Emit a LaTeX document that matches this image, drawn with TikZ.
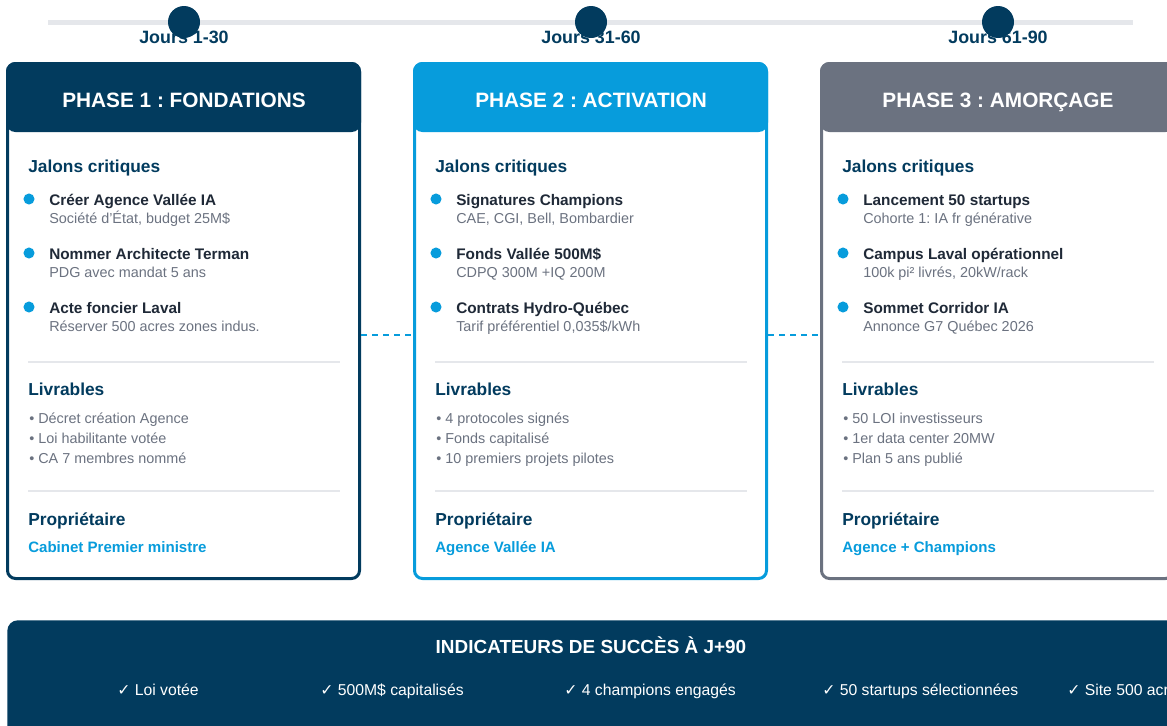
\documentclass[tikz,border=0pt]{standalone}
\usepackage{fontspec}
\setmainfont{Liberation Sans}
\newfontfamily\symfont{DejaVu Sans}
\usetikzlibrary{positioning}
\frenchspacing

\definecolor{navy}{HTML}{023B5E}
\definecolor{sky}{HTML}{079CDC}
\definecolor{slate}{HTML}{6B7280}
\definecolor{ink}{HTML}{1F2937}
\definecolor{track}{HTML}{E5E7EB}

\newcommand{\checkmk}{{\symfont ✓}}

\begin{document}
\begin{tikzpicture}[x=0.75pt, y=-0.75pt,  % 1 unite = 1 pixel de la reference
    card/.style={draw=#1, fill=white, line width=2.25pt, rounded corners=6pt,
      minimum width=264pt, minimum height=386.25pt, anchor=north west, inner sep=0pt},
    phasehead/.style={draw=#1, fill=#1, line width=2.25pt, rounded corners=6pt,
      minimum width=264pt, minimum height=50.25pt, anchor=north west, inner sep=0pt},
    phasetitle/.style={anchor=base, text=white, inner sep=0pt,
      font=\bfseries\fontsize{15.6}{18}\selectfont},
    daylabel/.style={anchor=base, text=navy, inner sep=0pt,
      font=\bfseries\fontsize{13.4}{15}\selectfont},
    daydot/.style={circle, fill=navy, minimum size=24pt, inner sep=0pt},
    sechead/.style={anchor=base west, text=navy, inner sep=0pt,
      font=\bfseries\fontsize{13}{15}\selectfont},
    bullet/.style={circle, fill=sky, minimum size=8.3pt, inner sep=0pt},
    itemtitle/.style={anchor=base west, text=ink, inner sep=0pt,
      font=\bfseries\fontsize{11.5}{14}\selectfont},
    itemnote/.style={anchor=base west, text=slate, inner sep=0pt,
      font=\fontsize{10.8}{13}\selectfont},
    owner/.style={anchor=base west, text=sky, inner sep=0pt,
      font=\bfseries\fontsize{11.3}{14}\selectfont},
    seprule/.style={draw=track, line width=1.5pt},
    link/.style={draw=sky, line width=1.5pt, dash pattern=on 4.5pt off 3.75pt},
    bar/.style={fill=navy, rounded corners=8pt, minimum width=900pt,
      minimum height=90pt, anchor=north west, inner sep=0pt},
    bartitle/.style={anchor=base, text=white, inner sep=0pt,
      font=\bfseries\fontsize{14.2}{17}\selectfont},
    baritem/.style={anchor=base west, text=white, inner sep=0pt,
      font=\fontsize{11.8}{14}\selectfont}]

    % cadre de la page, le reste est coupe
    \useasboundingbox (0,0) rectangle (1167,725);
    \clip (0,0) rectangle (1167,725);

    % ligne du temps
    \draw[track, line width=3.75pt] (48,22) -- (1133,22);
    \node[daylabel] (day1) at (184,43.5) {Jours 1-30};
    \node[daylabel] (day2) at (591,43.5) {Jours 31-60};
    \node[daylabel] (day3) at (998,43.5) {Jours 61-90};
    \node[daydot] (dot1) at (184,22) {};
    \node[daydot] (dot2) at (591,22) {};
    \node[daydot] (dot3) at (998,22) {};

    % les trois cartes
    \node[card=navy] (card1) at (6,62) {};
    \node[card=sky] (card2) at (413,62) {};
    \node[card=slate] (card3) at (820,62) {};

    % liens pointilles entre les cartes
    \draw[link] ([yshift=-10.5pt]card1.east) -- ([yshift=-10.5pt]card2.west);
    \draw[link] ([yshift=-10.5pt]card2.east) -- ([yshift=-10.5pt]card3.west);

    % en-tetes des phases
    \node[phasehead=navy] (head1) at (6,62) {};
    \node[phasehead=sky] (head2) at (413,62) {};
    \node[phasehead=slate] (head3) at (820,62) {};
    \node[phasetitle] (title1) at (184,107) {PHASE 1 : FONDATIONS};
    \node[phasetitle] (title2) at (591,107) {PHASE 2 : ACTIVATION};
    \node[phasetitle] (title3) at (998,107) {PHASE 3 : AMORÇAGE};

    % carte 1
    \node[sechead] (jal1) at (28,172) {Jalons critiques};
    \node[bullet] (b11) at (29,199) {};
    \node[itemtitle] (t11) at (49,205) {Créer Agence Vallée IA};
    \node[itemnote] (n11) at (49,223) {Société d’État, budget 25M\$};
    \node[bullet] (b12) at (29,253) {};
    \node[itemtitle] (t12) at (49,259) {Nommer Architecte Terman};
    \node[itemnote] (n12) at (49,277) {PDG avec mandat 5 ans};
    \node[bullet] (b13) at (29,307) {};
    \node[itemtitle] (t13) at (49,313) {Acte foncier Laval};
    \node[itemnote] (n13) at (49,331) {Réserver 500 acres zones indus.};
    \draw[seprule] (28,362) -- (340,362);
    \node[sechead] (liv1) at (28,395) {Livrables};
    \node[itemnote] (l11) at (29,423) {• Décret création Agence};
    \node[itemnote] (l12) at (29,443) {• Loi habilitante votée};
    \node[itemnote] (l13) at (29,463) {• CA 7 membres nommé};
    \draw[seprule] (28,491) -- (340,491);
    \node[sechead] (own1) at (28,525) {Propriétaire};
    \node[owner] (o1) at (28,552) {Cabinet Premier ministre};

    % carte 2
    \node[sechead] (jal2) at (435,172) {Jalons critiques};
    \node[bullet] (b21) at (436,199) {};
    \node[itemtitle] (t21) at (456,205) {Signatures Champions};
    \node[itemnote] (n21) at (456,223) {CAE, CGI, Bell, Bombardier};
    \node[bullet] (b22) at (436,253) {};
    \node[itemtitle] (t22) at (456,259) {Fonds Vallée 500M\$};
    \node[itemnote] (n22) at (456,277) {CDPQ 300M +IQ 200M};
    \node[bullet] (b23) at (436,307) {};
    \node[itemtitle] (t23) at (456,313) {Contrats Hydro-Québec};
    \node[itemnote] (n23) at (456,331) {Tarif préférentiel 0,035\$/kWh};
    \draw[seprule] (435,362) -- (747,362);
    \node[sechead] (liv2) at (435,395) {Livrables};
    \node[itemnote] (l21) at (436,423) {• 4 protocoles signés};
    \node[itemnote] (l22) at (436,443) {• Fonds capitalisé};
    \node[itemnote] (l23) at (436,463) {• 10 premiers projets pilotes};
    \draw[seprule] (435,491) -- (747,491);
    \node[sechead] (own2) at (435,525) {Propriétaire};
    \node[owner] (o2) at (435,552) {Agence Vallée IA};

    % carte 3
    \node[sechead] (jal3) at (842,172) {Jalons critiques};
    \node[bullet] (b31) at (843,199) {};
    \node[itemtitle] (t31) at (863,205) {Lancement 50 startups};
    \node[itemnote] (n31) at (863,223) {Cohorte 1: IA fr générative};
    \node[bullet] (b32) at (843,253) {};
    \node[itemtitle] (t32) at (863,259) {Campus Laval opérationnel};
    \node[itemnote] (n32) at (863,277) {100k pi² livrés, 20kW/rack};
    \node[bullet] (b33) at (843,307) {};
    \node[itemtitle] (t33) at (863,313) {Sommet Corridor IA};
    \node[itemnote] (n33) at (863,331) {Annonce G7 Québec 2026};
    \draw[seprule] (842,362) -- (1154,362);
    \node[sechead] (liv3) at (842,395) {Livrables};
    \node[itemnote] (l31) at (843,423) {• 50 LOI investisseurs};
    \node[itemnote] (l32) at (843,443) {• 1er data center 20MW};
    \node[itemnote] (l33) at (843,463) {• Plan 5 ans publié};
    \draw[seprule] (842,491) -- (1154,491);
    \node[sechead] (own3) at (842,525) {Propriétaire};
    \node[owner] (o3) at (842,552) {Agence + Champions};

    % bandeau des indicateurs
    \node[bar] (bar) at (7,620) {};
    \node[bartitle] (bartitle) at (591,653) {INDICATEURS DE SUCCÈS À J+90};
    \node[baritem] (k1) at (117,695) {\checkmk\ Loi votée};
    \node[baritem] (k2) at (320,695) {\checkmk\ 500M\$ capitalisés};
    \node[baritem] (k3) at (564,695) {\checkmk\ 4 champions engagés};
    \node[baritem] (k4) at (822,695) {\checkmk\ 50 startups sélectionnées};
    \node[baritem] (k5) at (1067,695) {\checkmk\ Site 500 acres};

\end{tikzpicture}
\end{document}
